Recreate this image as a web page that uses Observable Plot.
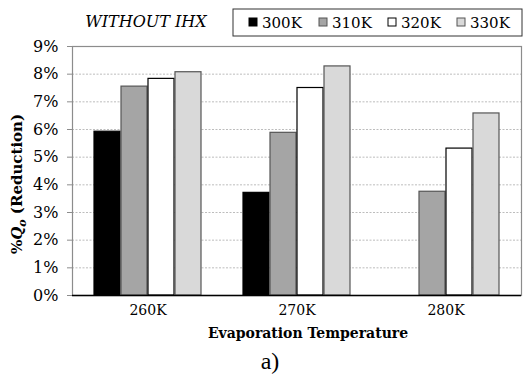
<!DOCTYPE html>
<html>
<head>
<meta charset="utf-8">
<script src="https://cdn.jsdelivr.net/npm/d3@7"></script>
<script src="https://cdn.jsdelivr.net/npm/@observablehq/plot@0.6"></script>
<style>
  html, body { margin: 0; padding: 0; background: #fff; }
  svg { display: block; }
</style>
</head>
<body>
<div id="chart"></div>
<script>
// ---- data ----
const groups = ["260K", "270K", "280K"];
const series = ["300K", "310K", "320K", "330K"];
const v300 = [5.92, 3.71, null];
const v310 = [7.55, 5.88, 3.75];
const v320 = [7.83, 7.50, 5.31];
const v330 = [8.07, 8.28, 6.58];
const yTicks = [0, 1, 2, 3, 4, 5, 6, 7, 8, 9];
const title = "WITHOUT IHX";
const xLabel = "Evaporation Temperature";
const caption = "a)";

const seriesValues = [v300, v310, v320, v330];
const fills = ["#000000", "#a5a5a5", "#ffffff", "#d9d9d9"];
const strokes = ["#000000", "#555555", "#000000", "#555555"];

const W = 523, H = 383;
const mL = 72, mR = 2, mT = 46, mB = 88;
const barW = 27;

const barMarks = series.map((s, j) => {
  const rows = groups.map((g, i) => ({group: g, value: seriesValues[j][i]})).filter(d => d.value != null);
  return Plot.barY(rows, {
    x: "group", y: "value",
    fill: fills[j], stroke: strokes[j], strokeWidth: 1.2,
    insetLeft: barW * j, insetRight: barW * (3 - j)
  });
});

const chart = Plot.plot({
  width: W, height: H,
  marginLeft: mL, marginRight: mR, marginTop: mT, marginBottom: mB,
  style: {fontFamily: "DejaVu Serif", fontSize: "14px", color: "#000", background: "#fff"},
  x: {domain: groups, paddingInner: 0.28, paddingOuter: 0.14, label: null},
  y: {domain: [0, 9], label: null},
  marks: [
    Plot.ruleY(yTicks.slice(1, -1), {stroke: "#bdbdbd", strokeDasharray: "2,1.5", strokeWidth: 1}),
    Plot.frame({stroke: "#8c8c8c", strokeWidth: 1.2}),
    ...barMarks,
    Plot.ruleY([0], {stroke: "#000", strokeWidth: 1.5}),
    Plot.axisY(yTicks, {tickFormat: d => d + "%", tickSize: 5, tickPadding: 9, stroke: "#8c8c8c", fontSize: 16, label: null}),
    Plot.axisX({tickSize: 0, tickPadding: 10, fontSize: 14, label: null})
  ]
});

document.getElementById("chart").appendChild(chart);

const svg = d3.select(chart);

// title
svg.append("text")
  .attr("x", 146).attr("y", 27)
  .attr("text-anchor", "middle")
  .attr("font-family", "DejaVu Serif").attr("font-style", "italic")
  .attr("font-size", 16).attr("fill", "#000")
  .text(title);

// legend box
svg.append("rect")
  .attr("x", 233).attr("y", 9).attr("width", 289).attr("height", 27)
  .attr("fill", "#fff").attr("stroke", "#333").attr("stroke-width", 1);
const legendX = [249, 319, 388, 457];
series.forEach((s, j) => {
  svg.append("rect")
    .attr("x", legendX[j]).attr("y", 18).attr("width", 8).attr("height", 8)
    .attr("fill", fills[j]).attr("stroke", strokes[j]).attr("stroke-width", 1);
  svg.append("text")
    .attr("x", legendX[j] + 13).attr("y", 28)
    .attr("text-anchor", "start")
    .attr("font-family", "DejaVu Serif").attr("font-size", 15).attr("fill", "#000")
    .text(s);
});

// y label
const yl = svg.append("text")
  .attr("transform", "translate(22,184) rotate(-90)")
  .attr("text-anchor", "middle")
  .attr("font-family", "DejaVu Serif").attr("font-weight", "bold")
  .attr("font-size", 15).attr("fill", "#000");
yl.append("tspan").text("%");
yl.append("tspan").attr("font-style", "italic").text("Q");
yl.append("tspan").attr("font-style", "italic").attr("font-size", 11).attr("dy", 4).text("o");
yl.append("tspan").attr("dy", -4).text(" (Reduction)");

// x label
svg.append("text")
  .attr("x", 308).attr("y", 338)
  .attr("text-anchor", "middle")
  .attr("font-family", "DejaVu Serif").attr("font-weight", "bold")
  .attr("font-size", 14).attr("fill", "#000")
  .text(xLabel);

// caption
svg.append("text")
  .attr("x", 270).attr("y", 369)
  .attr("text-anchor", "middle")
  .attr("font-family", "Liberation Serif")
  .attr("font-size", 24).attr("fill", "#000")
  .text(caption);
</script>
</body>
</html>
